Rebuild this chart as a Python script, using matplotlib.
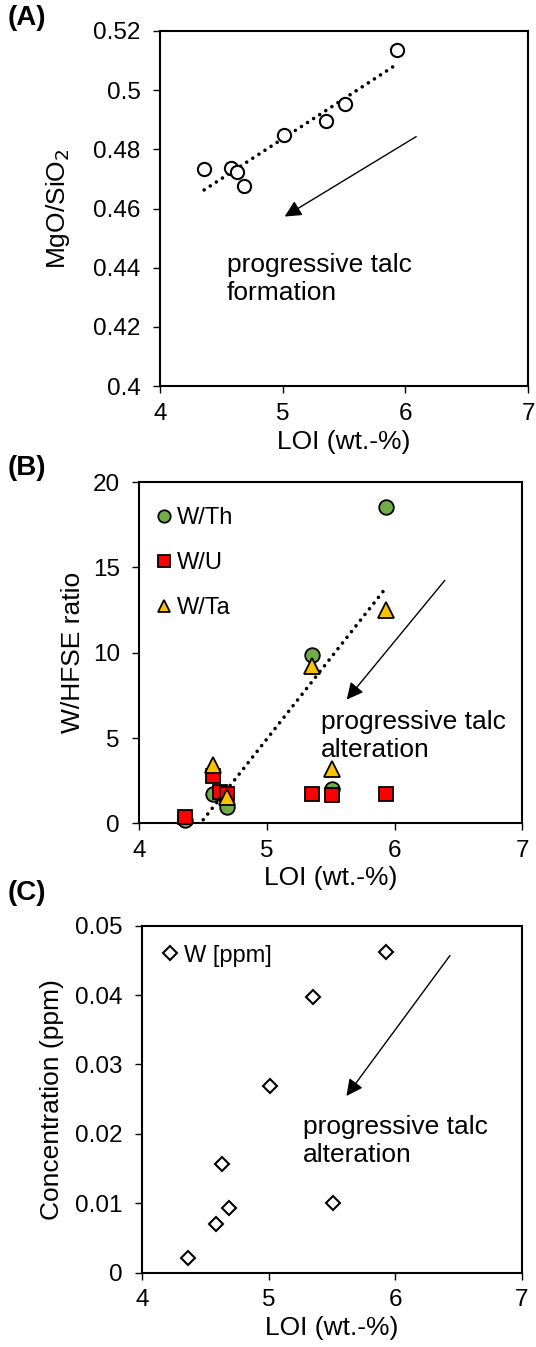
import numpy as np
import matplotlib
matplotlib.use("Agg")
import matplotlib.pyplot as plt
from matplotlib.ticker import FuncFormatter

plt.rcParams['font.family'] = ['Liberation Sans', 'DejaVu Sans']

# LOI (wt.-%) of the samples
loi = np.array([4.36, 4.58, 4.63, 4.685, 5.01, 5.35, 5.51, 5.93])
# (A) MgO/SiO2
mgo_sio2 = np.array([0.4732, 0.4736, 0.4724, 0.4677, 0.4848, 0.4897, 0.4952, 0.5136])
# (B) W/HFSE ratios (nan = not plotted)
w_th = np.array([0.2, 1.72, 1.8, 0.97, np.nan, 9.87, 2.0, 18.53])
w_u = np.array([0.39, 2.77, 1.85, 1.7, np.nan, 1.72, 1.66, 1.72])
w_ta = np.array([np.nan, 3.42, np.nan, 1.52, np.nan, 9.23, 3.17, 12.51])
# (C) W concentration
w_ppm = np.array([0.00216, 0.00697, 0.01566, 0.00928, 0.02695, 0.03977, 0.01009, 0.04617])

x_ticks = [4, 5, 6, 7]
TICK_FS = 17.5
LEG_FS = 17
LABEL_FS = 19
NOTE_FS = 19

fig = plt.figure(figsize=(5.36, 13.47), dpi=100)
axA = fig.add_axes([0.2985, 0.7134, 0.6866, 0.2636])
axB = fig.add_axes([0.2599, 0.3888, 0.7145, 0.2532])
axC = fig.add_axes([0.2655, 0.0552, 0.7078, 0.2576])

gfmt = FuncFormatter(lambda v, p: '{:g}'.format(round(v, 4)))

def style(ax, ylim, yticks, ylabel, ylab_x):
    ax.set_xlim(4, 7)
    ax.set_ylim(*ylim)
    ax.set_xticks(x_ticks)
    ax.set_yticks(yticks)
    ax.yaxis.set_major_formatter(gfmt)
    for s in ax.spines.values():
        s.set_linewidth(1.5)
    ax.tick_params(direction='out', length=5, width=1, labelsize=TICK_FS)
    ax.tick_params(axis='y', pad=9)
    ax.tick_params(axis='x', pad=7)
    ax.set_xlabel('LOI (wt.-%)', fontsize=LABEL_FS)
    ax.xaxis.set_label_coords(0.5, -0.125)
    ax.set_ylabel(ylabel, fontsize=LABEL_FS)
    ax.yaxis.set_label_coords(ylab_x, 0.5)

def trend(ax, x, y):
    ok = ~np.isnan(y)
    k, b = np.polyfit(x[ok], y[ok], 1)
    xs = np.array([x[ok].min(), x[ok].max()])
    ax.plot(xs, k * xs + b, color='black', lw=2.6, linestyle=(0, (0.01, 2.0)),
            dash_capstyle='round', zorder=2)

# (A)
style(axA, (0.4, 0.52), np.arange(0.40, 0.521, 0.02), 'MgO/SiO$_2$', -0.238)
trend(axA, loi, mgo_sio2)
axA.plot(loi, mgo_sio2, 'o', ms=9.5, mfc='white', mec='black', mew=1.5, zorder=3)
axA.annotate('', xy=(4.997, 0.4568), xytext=(6.108, 0.4848),
             arrowprops=dict(arrowstyle='-|>', lw=1, color='black', mutation_scale=25))
axA.text(4.543, 0.4448, 'progressive talc\nformation', fontsize=NOTE_FS, va='top',
         ha='left', linespacing=1.2)

# (B)
style(axB, (0, 20), [0, 5, 10, 15, 20], 'W/HFSE ratio', -0.142)
trend(axB, loi, w_th)
axB.plot(loi, w_th, 'o', ms=10.5, mfc='#70AD47', mec='black', mew=1.3,
         label='W/Th', clip_on=False, zorder=3)
axB.plot(loi, w_u, 's', ms=10.5, mfc='#FF0000', mec='black', mew=1.3,
         label='W/U', clip_on=False, zorder=4)
axB.plot(loi, w_ta, '^', ms=11, mfc='#FFC000', mec='black', mew=1.3,
         label='W/Ta', clip_on=False, zorder=5)
axB.legend(loc='upper left', bbox_to_anchor=(0.0447, 0.926), frameon=False,
           fontsize=LEG_FS, handlelength=0.6, handletextpad=0.28,
           labelspacing=0.97, borderpad=0, borderaxespad=0, markerscale=0.85)
axB.annotate('', xy=(5.611, 7.13), xytext=(6.407, 14.37),
             arrowprops=dict(arrowstyle='-|>', lw=1, color='black', mutation_scale=25))
axB.text(5.42, 6.65, 'progressive talc\nalteration', fontsize=NOTE_FS, va='top',
         ha='left', linespacing=1.2)

# (C)
style(axC, (0, 0.05), np.arange(0, 0.0501, 0.01), 'Concentration (ppm)', -0.206)
axC.plot(loi, w_ppm, 'D', ms=7.5, mfc='white', mec='black', mew=1.5,
         label='W [ppm]', clip_on=False, zorder=3)
axC.legend(loc='upper left', bbox_to_anchor=(0.0548, 0.945), frameon=False,
           fontsize=LEG_FS, handlelength=0.6, handletextpad=0.28,
           borderpad=0, borderaxespad=0)
axC.annotate('', xy=(5.601, 0.02513), xytext=(6.446, 0.04602),
             arrowprops=dict(arrowstyle='-|>', lw=1, color='black', mutation_scale=25))
axC.text(5.273, 0.02272, 'progressive talc\nalteration', fontsize=NOTE_FS, va='top',
         ha='left', linespacing=1.2)

# panel letters
for lab, ytop in [('(A)', 5), ('(B)', 455), ('(C)', 880)]:
    fig.text(8 / 536, 1 - ytop / 1347, lab, fontsize=20, fontweight='bold',
             va='top', ha='left')

fig.savefig('out.png', dpi=100)
